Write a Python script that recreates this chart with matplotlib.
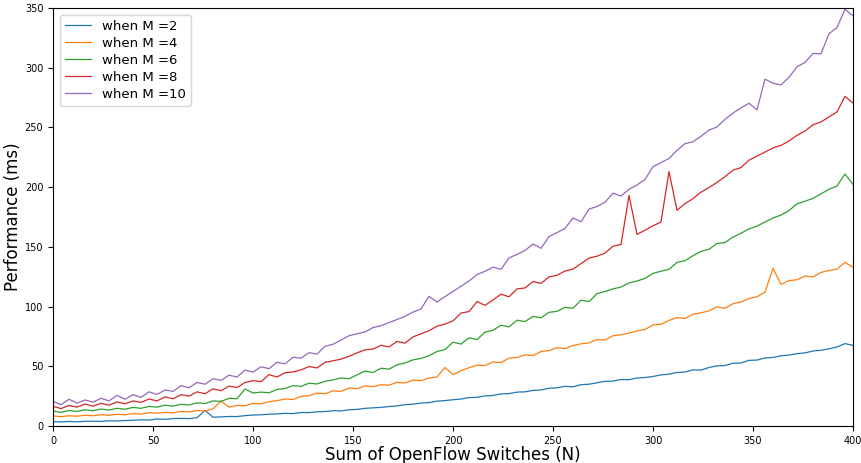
import numpy as np
import matplotlib
matplotlib.use("Agg")
import matplotlib.pyplot as plt

# sum of switches, sampled every 4
n_switches = np.arange(0, 401, 4)

# (ms)
perf_m2 = [3.6, 3.4, 3.8, 3.5, 3.9, 4.0, 3.8, 4.4, 4.2, 4.6, 4.8, 5.2, 5.0, 5.9, 5.6, 6.2, 6.4, 6.2, 6.9, 13.0,
           7.4, 7.6, 8.0, 7.9, 8.7, 9.2, 9.4, 9.9, 10.1, 10.6, 10.4, 11.3, 11.2, 11.9, 12.1, 12.8, 12.6, 13.6, 13.9, 14.8,
           15.2, 15.6, 16.3, 16.8, 17.9, 18.3, 19.2, 19.6, 20.8, 21.3, 22.0, 22.6, 23.8, 24.0, 25.2, 25.6, 26.9, 27.1, 28.4, 28.6,
           29.8, 30.2, 31.6, 32.0, 33.2, 32.8, 34.6, 35.0, 36.2, 37.4, 37.6, 38.9, 38.8, 40.2, 40.6, 41.5, 42.8, 43.4, 44.8, 45.2,
           47.0, 46.8, 49.0, 50.4, 50.6, 52.6, 52.8, 55.0, 55.2, 57.0, 57.4, 58.8, 59.4, 60.6, 61.2, 62.8, 63.4, 64.6, 66.2, 69.0,
           67.5]
perf_m4 = [8.5, 7.8, 8.6, 8.2, 9.0, 8.6, 9.4, 9.0, 9.8, 9.4, 10.4, 10.0, 11.2, 10.8, 11.4, 11.0, 12.2, 11.8, 13.0, 12.6,
           14.4, 21.0, 15.8, 17.2, 17.0, 19.0, 18.6, 20.4, 21.2, 22.6, 22.2, 24.8, 25.4, 27.6, 27.0, 29.4, 29.0, 31.8, 31.2, 33.6,
           33.0, 34.6, 34.2, 36.6, 36.0, 38.4, 38.0, 40.2, 41.0, 49.0, 43.0, 46.4, 48.8, 51.0, 50.6, 53.6, 53.2, 56.8, 57.4, 59.6,
           59.0, 62.4, 63.2, 65.6, 64.8, 67.4, 68.8, 69.6, 72.4, 72.0, 75.6, 76.4, 77.8, 79.6, 80.8, 84.6, 85.2, 88.4, 90.8, 90.0,
           93.6, 94.8, 96.4, 99.8, 98.6, 102.4, 103.8, 106.8, 108.2, 112.0, 132.0, 118.6, 121.8, 122.4, 125.6, 124.8, 128.6, 130.2, 131.4, 137.0,
           133.0]
perf_m6 = [12.6, 11.4, 13.0, 12.2, 13.6, 12.8, 14.2, 13.4, 14.8, 14.0, 15.6, 14.8, 16.4, 15.8, 17.4, 16.6, 18.2, 17.6, 19.4, 18.8,
           21.0, 20.6, 23.2, 22.8, 31.0, 27.6, 28.4, 27.8, 30.6, 31.4, 33.8, 33.2, 35.8, 35.2, 37.4, 38.6, 40.2, 39.6, 42.8, 46.0,
           44.8, 48.4, 47.6, 51.2, 52.8, 55.4, 56.6, 58.8, 62.4, 64.0, 70.2, 68.6, 73.8, 72.4, 78.6, 80.2, 84.4, 83.0, 88.6, 87.4,
           91.8, 90.6, 95.2, 96.0, 99.4, 98.6, 105.4, 104.2, 110.8, 112.6, 114.8, 116.4, 119.8, 121.4, 123.6, 127.8, 129.6, 131.2, 137.0, 138.4,
           142.6, 146.2, 148.0, 152.8, 153.6, 158.2, 161.4, 165.0, 167.4, 170.8, 174.2, 176.6, 180.4, 186.0, 188.2, 190.6, 194.4, 198.2, 201.0, 211.0,
           202.4]
perf_m8 = [16.4, 14.6, 17.2, 15.8, 18.4, 16.6, 19.0, 17.4, 20.2, 18.6, 21.0, 19.8, 22.6, 21.0, 24.4, 22.8, 26.2, 25.0, 28.6, 27.0,
           31.2, 29.6, 33.4, 32.2, 36.4, 38.0, 37.2, 43.0, 41.0, 44.6, 45.2, 47.0, 49.8, 48.6, 53.4, 54.6, 56.0, 58.4, 61.2, 63.8,
           64.4, 67.6, 66.2, 70.8, 69.4, 74.6, 77.2, 79.8, 83.6, 85.4, 88.0, 94.6, 95.8, 104.2, 101.0, 105.6, 110.4, 108.2, 114.8, 115.6,
           121.0, 119.4, 124.8, 126.2, 129.8, 131.4, 136.0, 140.6, 142.2, 144.8, 150.6, 152.0, 193.0, 160.4, 164.0, 167.6, 170.8, 213.0, 180.6, 186.2,
           190.4, 195.8, 199.6, 204.0, 208.8, 214.2, 216.4, 222.6, 226.0, 229.4, 232.8, 235.0, 238.6, 243.4, 247.0, 252.2, 254.6, 258.8, 263.0, 276.0,
           270.4]
perf_m10 = [20.6, 17.8, 22.4, 19.2, 21.8, 20.0, 23.2, 21.0, 25.6, 22.4, 26.2, 24.0, 28.6, 26.4, 30.2, 29.0, 33.8, 32.0, 36.4, 35.0,
            39.6, 38.2, 42.6, 41.0, 46.8, 45.2, 49.6, 48.0, 53.4, 52.0, 57.6, 56.8, 61.4, 60.2, 66.8, 68.4, 72.0, 75.6, 77.2, 78.8,
            82.4, 84.0, 86.6, 89.2, 91.8, 95.4, 98.0, 108.6, 103.8, 108.4, 112.6, 117.0, 121.4, 126.8, 129.6, 133.0, 131.2, 140.8, 143.6, 147.0,
            152.4, 148.8, 158.6, 162.0, 165.4, 174.2, 171.0, 181.6, 183.8, 187.4, 195.0, 192.6, 198.2, 201.8, 206.4, 217.2, 220.6, 224.0, 230.8, 236.4,
            238.0, 242.6, 247.8, 250.4, 256.8, 262.0, 266.4, 270.2, 264.8, 290.4, 287.0, 285.6, 292.0, 300.8, 304.4, 312.0, 311.6, 328.4, 333.6, 349.0,
            343.4]

labels = ["when M =2", "when M =4", "when M =6", "when M =8", "when M =10"]

fig = plt.figure(figsize=(8.61, 4.63), dpi=100)
ax = fig.add_axes([0.0616, 0.0799, 0.9291, 0.9028])

for y, lab in zip([perf_m2, perf_m4, perf_m6, perf_m8, perf_m10], labels):
    ax.plot(n_switches, y, linewidth=0.9, label=lab)

ax.set_xlim(0, 400)
ax.set_ylim(0, 350)
ax.tick_params(labelsize=7)
ax.set_xlabel("Sum of OpenFlow Switches (N)", fontsize=12)
ax.set_ylabel("Performance (ms)", fontsize=12)
ax.xaxis.set_label_coords(0.5, -0.047)
ax.yaxis.set_label_coords(-0.039, 0.5)
ax.legend(loc="upper left", fontsize=9.5, labelspacing=0.3)

plt.savefig("out.png", dpi=100)
